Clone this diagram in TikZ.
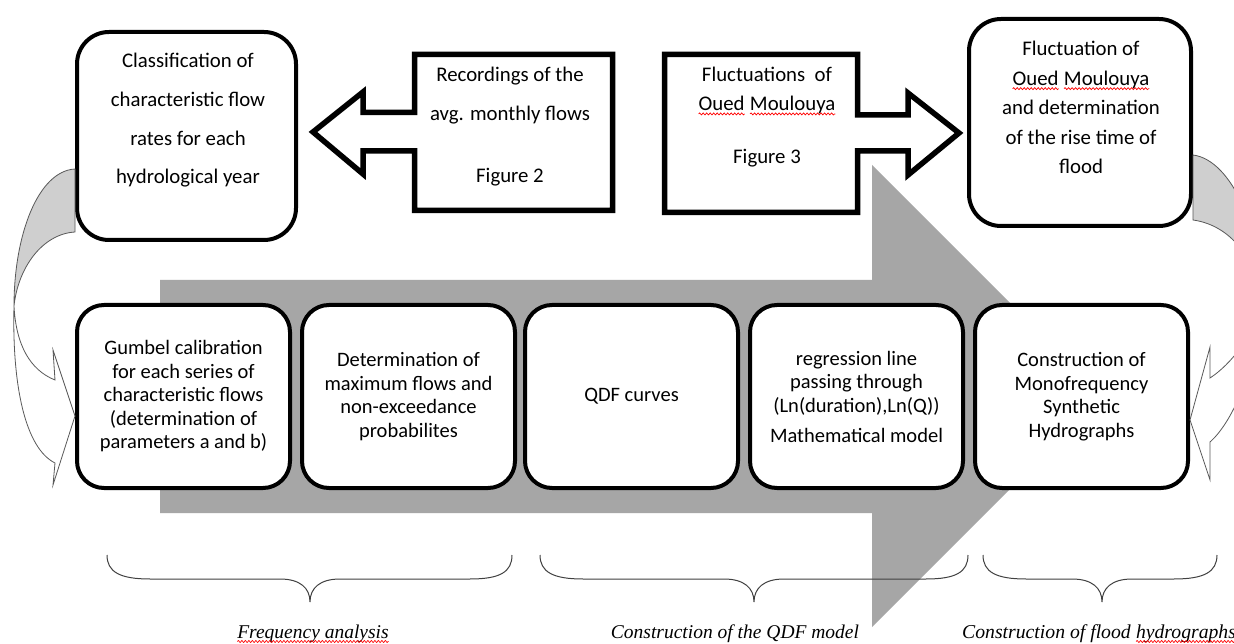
\documentclass[tikz,border=0pt]{standalone}
\usepackage{fontspec}
\setmainfont{Carlito}
\newfontfamily\labfont{Liberation Serif}
\usetikzlibrary{decorations.pathmorphing}
\definecolor{biggray}{HTML}{A6A6A6}
\definecolor{backgray}{HTML}{CFCFCF}
\definecolor{thinline}{HTML}{595959}
\definecolor{bracecol}{HTML}{404040}
\tikzset{spell/.style={draw=red, line width=0.7pt, decorate, decoration={snake, amplitude=1pt, segment length=3.5pt}}}
\newcommand{\wavyword}[1]{\tikz[baseline=(sw.base)]{\node[inner sep=0pt,outer sep=0pt] (sw) {#1}; \draw[spell] ([yshift=-3.5pt]sw.base west) -- ([yshift=-3.5pt]sw.base east);}}
\begin{document}
\begin{tikzpicture}[x=1pt,y=-1pt,
  botbox/.style={draw=black, line width=4pt, fill=white, rounded corners=27pt,
    minimum width=213pt, minimum height=183pt, inner sep=0pt, align=center,
    font=\fontsize{20.5}{23.5}\selectfont},
  topbox/.style={draw=black, line width=4pt, fill=white, rounded corners=32pt, inner sep=0pt},
  calloutline/.style={draw=black, line width=5.5pt, fill=white, line join=miter},
  curvearrow/.style={draw=thinline, line width=0.8pt},
  bracepath/.style={draw=bracecol, line width=1pt},
  phase/.style={font=\labfont\itshape\fontsize{19.5}{22}\selectfont, inner sep=0pt},
  toptext/.style={inner sep=0pt, align=center}
]
\useasboundingbox (0,0) rectangle (1234,644);
\fill[white] (0,0) rectangle (1234,644);

% big gray process arrow
\fill[biggray] (160,280) -- (872,280) -- (872,165) -- (1103,396) -- (872,627) -- (872,513) -- (160,513) -- cycle;

% bottom row
\node[botbox] (b1) at (183.5,396.5) {Gumbel calibration\\for each series of\\characteristic flows\\(determination of\\parameters a and b)};
\node[botbox] (b2) at (408.5,396.5) {Determination of\\maximum flows and\\non-exceedance\\probabilites};
\node[botbox] (b3) at (631.5,396.5) {QDF curves};
\node[botbox] (b4) at (856.5,396.5) {regression line\\passing through\\(Ln(duration),Ln(Q))\\[6.5pt]Mathematical model};
\node[botbox] (b5) at (1081.5,396.5) {Construction of\\Monofrequency\\Synthetic\\Hydrographs};

% top boxes
\node[topbox, minimum width=219pt, minimum height=208pt] (tl) at (186.5,136) {};
\node[toptext, font=\fontsize{20.8}{38.7}\selectfont] (tltext) at (188,120.5) {Classification of\\characteristic flow\\rates for each\\hydrological year};
\node[topbox, minimum width=222pt, minimum height=207pt] (tr) at (1080,122.5) {};
\node[toptext, font=\fontsize{20.8}{29.5}\selectfont] (trtext) at (1081,107.5) {Fluctuation of\\\wavyword{Oued} \wavyword{Moulouya}\\and determination\\of the rise time of\\flood};

% callout arrows
\draw[calloutline] (612.5,54.5) -- (414.5,54.5) -- (414.5,112.5) -- (363,112.5) -- (363,92) -- (313,132) -- (363,174) -- (363,151) -- (414.5,151) -- (414.5,210.5) -- (612.5,210.5) -- cycle;
\node[toptext, font=\fontsize{20.8}{39}\selectfont] (rec) at (510,126.5) {Recordings of the\\avg. monthly flows\\[23pt]Figure 2};
\draw[calloutline] (664.5,54.5) -- (857.5,54.5) -- (857.5,115) -- (908,115) -- (908,93) -- (959,133) -- (908,175) -- (908,151) -- (857.5,151) -- (857.5,212.5) -- (664.5,212.5) -- cycle;
\node[toptext, font=\fontsize{20.8}{29}\selectfont] (fluc) at (767,117) {Fluctuations\ \ of\\\wavyword{Oued} \wavyword{Moulouya}\\[24pt]Figure 3};

% left curved arrow (tl -> b1)
\filldraw[curvearrow, fill=backgray] (tl.west |- 0,169) .. controls (38,171) and (14,235) .. (14,306) .. controls (18,268) and (42,234) .. (tl.west |- 0,232) -- cycle;
\filldraw[curvearrow, fill=white] (14,306) .. controls (12,385) and (25,448) .. (55,463) -- (53,485) -- (b1.west |- 0,416) -- (53,350) -- (55,380) .. controls (30,370) and (16,345) .. (14,306) -- cycle;

% right curved arrow (tr -> b5)
\begin{scope}
\clip (0,0) rectangle (1234,644);
\filldraw[curvearrow, fill=backgray] (tr.east |- 0,155) .. controls (1232,160) and (1262,232) .. (1262,300) .. controls (1258,268) and (1236,226) .. (tr.east |- 0,220) -- cycle;
\filldraw[curvearrow, fill=white] (1262,300) .. controls (1258,360) and (1235,420) .. (1210,442) -- (1210,480) -- (b5.east |- 0,420) -- (1210,347) -- (1210,378) .. controls (1230,365) and (1255,335) .. (1262,300) -- cycle;
\end{scope}

% braces
\draw[bracepath] (107,555) .. controls (107,572) and (120,579) .. (150,579) -- (280,579) .. controls (300,579) and (310,588) .. (310,602) .. controls (310,588) and (320,579) .. (340,579) -- (470,579) .. controls (500,579) and (512,572) .. (512,555);
\draw[bracepath] (540,555) .. controls (540,572) and (553,579) .. (583,579) -- (724,579) .. controls (744,579) and (754,588) .. (754,602) .. controls (754,588) and (764,579) .. (784,579) -- (926,579) .. controls (956,579) and (968,572) .. (968,555);
\draw[bracepath] (983,555) .. controls (983,572) and (996,579) .. (1026,579) -- (1072,579) .. controls (1092,579) and (1102,588) .. (1102,602) .. controls (1102,588) and (1112,579) .. (1132,579) -- (1174,579) .. controls (1204,579) and (1217,572) .. (1217,555);

% phase labels
\node[phase, anchor=base] (ph1) at (313,638) {\wavyword{Frequency analysis}};
\node[phase, anchor=base] (ph2) at (735,638) {Construction of the QDF model};
\node[phase, anchor=base west, font=\labfont\itshape\fontsize{19.7}{22}\selectfont] (ph3) at (962,638) {Construction of flood \wavyword{hydrographs}};
\end{tikzpicture}
\end{document}
